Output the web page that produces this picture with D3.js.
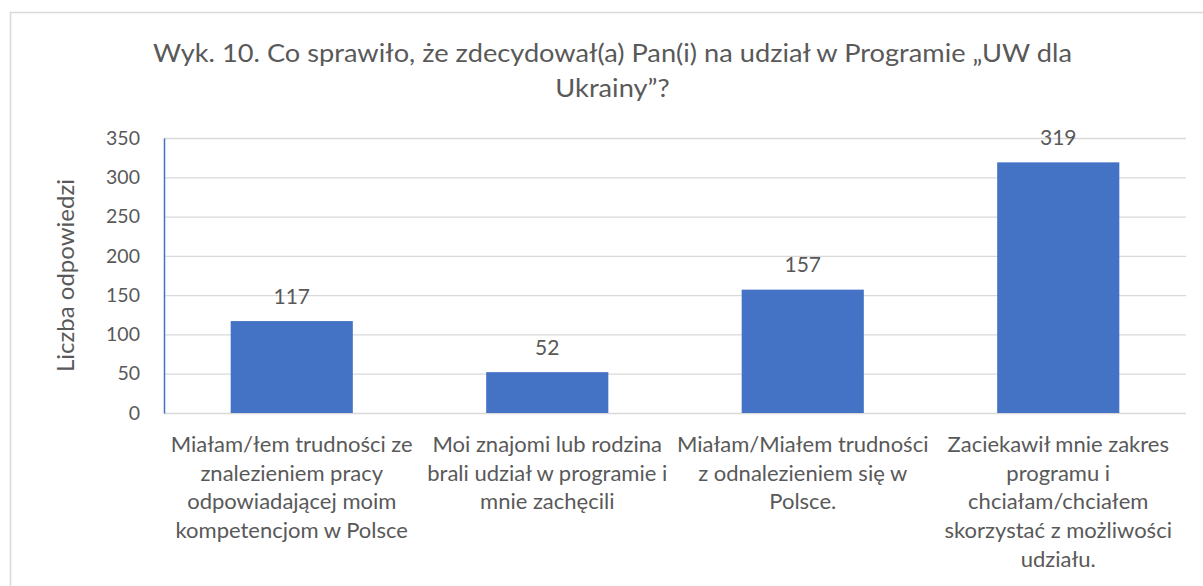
<!DOCTYPE html>
<html><head><meta charset="utf-8">
<script src="https://cdn.jsdelivr.net/npm/d3@7"></script>
<style>body{margin:0;background:#fff}svg{display:block}text{font-family:Lato,"Open Sans",sans-serif;fill:#595959}</style>
</head><body>
<script>
const categories = [
  ["Miałam/łem trudności ze","znalezieniem pracy","odpowiadającej moim","kompetencjom w Polsce"],
  ["Moi znajomi lub rodzina","brali udział w programie i","mnie zachęcili"],
  ["Miałam/Miałem trudności","z odnalezieniem się w","Polsce."],
  ["Zaciekawił mnie zakres","programu i","chciałam/chciałem","skorzystać z możliwości","udziału."]
];
const values = [117, 52, 157, 319];
const yTicks = [0, 50, 100, 150, 200, 250, 300, 350];
const titleLines = ["Wyk. 10. Co sprawiło, że zdecydował(a) Pan(i) na udział w Programie „UW dla", "Ukrainy”?"];
const yTitle = "Liczba odpowiedzi";

const W = 1203, H = 586;
const m = {left:164, right:1186, top:138, bottom:413};
const svg = d3.select("body").append("svg").attr("width", W).attr("height", H);
svg.append("rect").attr("x",10.5).attr("y",12.5).attr("width",W).attr("height",H)
  .attr("fill","#fff").attr("stroke","#D9D9D9").attr("stroke-width",1.5);

const x = d3.scaleBand().domain(d3.range(values.length)).range([m.left, m.right]).paddingInner(0.522).paddingOuter(0.261);
const y = d3.scaleLinear().domain([0,350]).range([m.bottom, m.top]);

// gridlines
svg.append("g").selectAll("line").data(yTicks).join("line")
  .attr("x1", m.left).attr("x2", m.right)
  .attr("y1", d=>y(d)+0.5).attr("y2", d=>y(d)+0.5)
  .attr("stroke","#D9D9D9").attr("stroke-width",1.3);

// y axis
const yAxis = svg.append("g").attr("transform",`translate(${m.left},0)`)
  .call(d3.axisLeft(y).tickValues(yTicks).tickSize(0).tickPadding(24));
yAxis.select(".domain").attr("stroke","#4472C4").attr("stroke-width",1.5);
yAxis.selectAll("text").attr("font-size",19.5).attr("fill","#595959").style("font-family","Lato");

// bars
svg.append("g").selectAll("rect").data(values).join("rect")
  .attr("x",(d,i)=>x(i)).attr("width",x.bandwidth())
  .attr("y",d=>y(d)).attr("height",d=>y(0)-y(d)).attr("fill","#4472C4");

// value labels
svg.append("g").selectAll("text").data(values).join("text")
  .attr("x",(d,i)=>x(i)+x.bandwidth()/2).attr("y",d=>y(d)-17.5)
  .attr("text-anchor","middle").attr("font-size",21).text(d=>d);

// category labels
const cat = svg.append("g");
categories.forEach((lines,i)=>{
  const cx = x(i)+x.bandwidth()/2;
  lines.forEach((t,j)=>{
    cat.append("text").attr("x",cx).attr("y",452+j*28.7)
      .attr("text-anchor","middle").attr("font-size",22).text(t);
  });
});

// axis title
svg.append("text").attr("transform",`translate(74,${(m.top+m.bottom)/2}) rotate(-90)`)
  .attr("text-anchor","middle").attr("font-size",24).text(yTitle);

// title
const tt = titleLines.map((t,j)=>svg.append("text").attr("x",612.5).attr("y",62+j*35).attr("text-anchor","middle")
    .attr("font-size",25.5).text(t));
const w0 = tt[0].node().getComputedTextLength();
const k = 919 / w0;
tt.forEach(s=>{ const w = s.node().getComputedTextLength(); s.attr("textLength", w*k).attr("lengthAdjust","spacingAndGlyphs"); });
</script>
</body></html>
